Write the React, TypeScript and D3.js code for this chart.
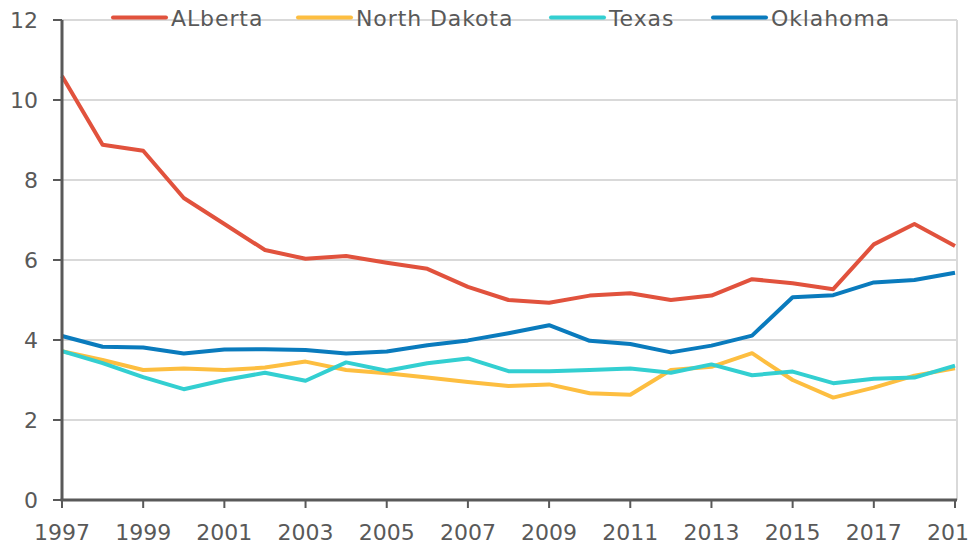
import React from "react";
import * as d3 from "d3";

const years = d3.range(1997, 2020);
const seriesNames = ["ALberta", "North Dakota", "Texas", "Oklahoma"];
const seriesColors = ["#e1523d", "#fdbe40", "#33cfd1", "#0a7bbd"];
const alberta = [10.6, 8.88, 8.73, 7.55, 6.9, 6.25, 6.03, 6.1, 5.93, 5.78, 5.33, 5.0, 4.93, 5.11, 5.17, 5.0, 5.11, 5.52, 5.42, 5.27, 6.39, 6.9, 6.35];
const northDakota = [3.72, 3.5, 3.25, 3.29, 3.25, 3.31, 3.46, 3.25, 3.17, 3.06, 2.95, 2.85, 2.89, 2.67, 2.63, 3.25, 3.33, 3.67, 3.0, 2.56, 2.81, 3.11, 3.29];
const texas = [3.72, 3.42, 3.07, 2.77, 3.0, 3.18, 2.98, 3.44, 3.23, 3.42, 3.54, 3.22, 3.22, 3.25, 3.29, 3.18, 3.39, 3.12, 3.21, 2.92, 3.03, 3.06, 3.36];
const oklahoma = [4.1, 3.83, 3.81, 3.66, 3.76, 3.77, 3.75, 3.66, 3.71, 3.87, 3.99, 4.17, 4.37, 3.98, 3.9, 3.69, 3.86, 4.11, 5.07, 5.12, 5.44, 5.5, 5.68];
const yTicks = [0, 2, 4, 6, 8, 10, 12];
const xTickYears = d3.range(1997, 2020, 2);

const W = 968, H = 548;
const L = 62, R = 955, T = 20, B = 500;
const FONT = "'DejaVu Sans', Verdana, sans-serif";
const TXT = "#595959";

export default function App() {
  const x = d3.scaleLinear().domain([1997, 2019]).range([L, R]);
  const y = d3.scaleLinear().domain([0, 12]).range([B, T]);
  const data = [alberta, northDakota, texas, oklahoma];
  const line = d3.line<number>().x((_, i) => x(years[i])).y((d) => y(d));
  const legendX = [113, 298, 551, 713];

  return (
    <svg width={W} height={H} style={{ position: "absolute", left: 0, top: 0 }} fontFamily={FONT}>
      <rect width={W} height={H} fill="#fff" />
      {yTicks.filter((t) => t > 0).map((t) => (
        <line key={t} x1={L} x2={957} y1={y(t)} y2={y(t)} stroke="#d9d9d9" strokeWidth={2} />
      ))}
      <line x1={957} x2={957} y1={T} y2={B} stroke="#d9d9d9" strokeWidth={2} />
      {data.map((d, i) => (
        <path key={i} d={line(d) || ""} fill="none" stroke={seriesColors[i]} strokeWidth={4} strokeLinejoin="round" />
      ))}
      <line x1={L} x2={L} y1={T} y2={B} stroke="#595959" strokeWidth={3} />
      <line x1={L - 1.5} x2={957} y1={B} y2={B} stroke="#595959" strokeWidth={3} />
      {yTicks.map((t) => (
        <g key={t}>
          <line x1={53} x2={L} y1={y(t)} y2={y(t)} stroke="#595959" strokeWidth={2} />
          <text x={38} y={y(t)} dy="0.36em" textAnchor="end" fontSize={22} fill={TXT}>{t}</text>
        </g>
      ))}
      {xTickYears.map((yr) => (
        <g key={yr}>
          <line x1={x(yr)} x2={x(yr)} y1={B} y2={508} stroke="#595959" strokeWidth={2} />
          <text x={x(yr)} y={540} textAnchor="middle" fontSize={22} fill={TXT}>{yr}</text>
        </g>
      ))}
      {seriesNames.map((n, i) => (
        <g key={n}>
          <line x1={legendX[i]} x2={legendX[i] + 53} y1={17.5} y2={17.5} stroke={seriesColors[i]} strokeWidth={4} strokeLinecap="round" />
          <text x={legendX[i] + 58} y={26} fontSize={22} letterSpacing={0.9} fill={TXT}>{n}</text>
        </g>
      ))}
    </svg>
  );
}
